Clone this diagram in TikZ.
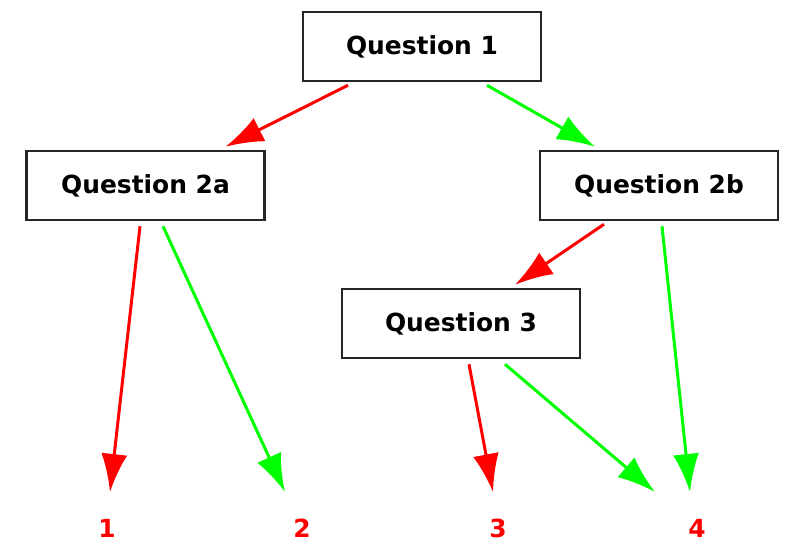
\documentclass[tikz,border=0pt]{standalone}
\usepackage{fontspec}
\setmainfont{DejaVu Sans}
\usetikzlibrary{arrows.meta}

\begin{document}
\begin{tikzpicture}[x=1bp,y=-1bp,
    question/.style={draw=black!85, line width=2.5bp, fill=white, minimum width=238bp,
      minimum height=69bp, font=\fontsize{25}{29}\selectfont\bfseries},
    leaf/.style={text=red, font=\fontsize{25}{29}\selectfont\bfseries},
    no/.style={-{Latex[length=38bp,width=26bp]}, draw=red, line width=3bp},
    yes/.style={-{Latex[length=38bp,width=26bp]}, draw=green, line width=3bp}]
  \useasboundingbox (0,0) rectangle (796,556);

  % questions
  \node (q1)  [question] at (422,46.5)  {Question 1};
  \node (q2a) [question] at (145.5,185.5) {Question 2a};
  \node (q2b) [question] at (659,185.5) {Question 2b};
  \node (q3)  [question] at (461,323.5) {Question 3};

  % answers
  \node (l1) [leaf] at (107,528) {1};
  \node (l2) [leaf] at (302,528) {2};
  \node (l3) [leaf] at (498,528) {3};
  \node (l4) [leaf] at (697,528) {4};

  \draw [no]  ([xshift=-74bp,yshift=-3bp]q1.south) -- ([xshift=80bp,yshift=3bp]q2a.north);
  \draw [yes] ([xshift=65bp,yshift=-3bp]q1.south)  -- ([xshift=-64bp,yshift=3bp]q2b.north);
  \draw [no]  ([xshift=-5.5bp,yshift=-5bp]q2a.south) -- ([xshift=3bp,yshift=36bp]l1.center);
  \draw [yes] ([xshift=17.5bp,yshift=-5bp]q2a.south) -- ([xshift=-17bp,yshift=36bp]l2.center);
  \draw [no]  ([xshift=-55bp,yshift=-3bp]q2b.south) -- ([xshift=54bp,yshift=3bp]q3.north);
  \draw [yes] ([xshift=3bp,yshift=-5bp]q2b.south)   -- ([xshift=-7bp,yshift=36bp]l4.center);
  \draw [no]  ([xshift=8bp,yshift=-5bp]q3.south)    -- ([xshift=-5bp,yshift=36bp]l3.center);
  \draw [yes] ([xshift=44bp,yshift=-5bp]q3.south)   -- ([xshift=-42bp,yshift=36bp]l4.center);
\end{tikzpicture}
\end{document}
